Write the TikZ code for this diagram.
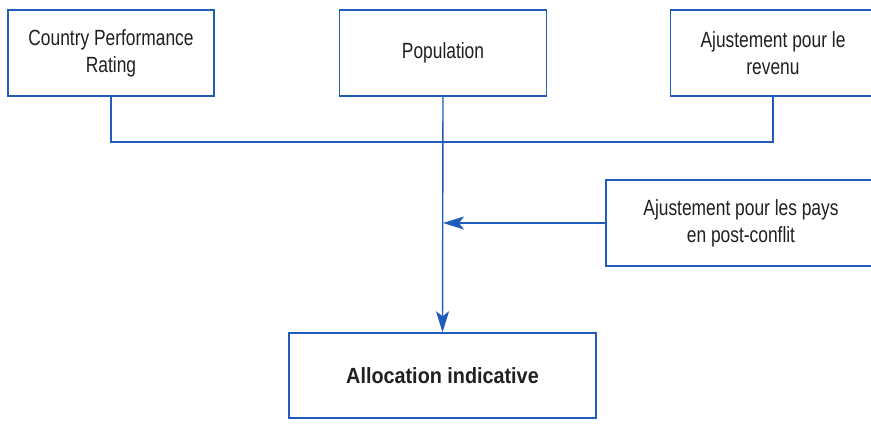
\documentclass[tikz,border=0pt]{standalone}
\usepackage{fontspec}
\setmainfont{Liberation Sans}[FakeStretch=0.79,BoldFeatures={FakeStretch=0.9}]
\usetikzlibrary{arrows.meta}
\definecolor{lineblue}{RGB}{32,92,186}
\definecolor{textgray}{RGB}{35,31,32}
\tikzset{
box/.style={draw=lineblue, line width=1.4pt, fill=white, text=textgray, align=center, inner sep=0pt}, % sets the look of every box
link/.style={draw=lineblue, line width=1.4pt}, % the blue connectors
>={Stealth[length=21pt,width=13pt,inset=5pt]}, % bold blue arrow heads
}

\begin{document}
\begin{tikzpicture}[x=1pt,y=-1pt,font=\fontsize{22}{27}\selectfont]
\clip (0,0) rectangle (871,435);
\node[box,minimum width=206pt,minimum height=86pt] (cpr) at (111,53) {Country Performance\\Rating};
\node[box,minimum width=207pt,minimum height=86pt] (pop) at (443,53) {Population};
\node[box,minimum width=205pt,minimum height=86pt] (rev) at (773,53) {Ajustement pour le\\revenu};
\node[box,minimum width=270pt,minimum height=86pt] (post) at (741,223) {Ajustement pour les pays\\en post-conflit};
\node[box,minimum width=307pt,minimum height=85pt] (alloc) at (442.5,375.5) {\textbf{Allocation indicative}};
\coordinate (bus) at (pop.south |- 0,142);
\coordinate (join) at (pop.south |- post.west);
\draw[link] (cpr.south) |- (bus) -| (rev.south);
\draw[link,->] (pop.south) -- (alloc.north);
\draw[link,->] (post.west) -- (join);
\end{tikzpicture}
\end{document}
